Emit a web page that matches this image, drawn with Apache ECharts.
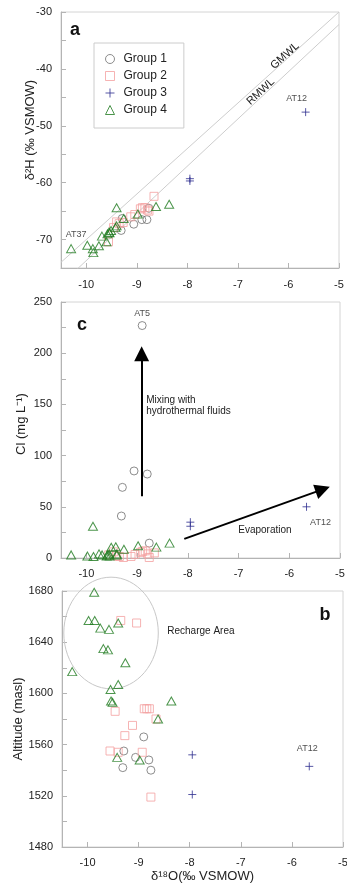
<!DOCTYPE html>
<html>
<head>
<meta charset="utf-8">
<script src="https://cdn.jsdelivr.net/npm/echarts@6/dist/echarts.min.js"></script>
<style>
html, body { margin: 0; padding: 0; background: #fff; }
#isotopes { width: 347px; height: 884px; }
</style>
</head>
<body>
<div id="isotopes"></div>
<script>
// one value per sample, same order in every array of a group
var g1_d18O = [-8.90, -9.06, -8.80, -9.29, -9.31, -8.76];
var g1_d2H  = [-66.5, -67.3, -66.5, -66.3, -68.4, -64.5];
var g1_Cl   = [227, 85, 82, 69, 41, 14.5];
var g1_alt  = [1566, 1550, 1548, 1555, 1542, 1540];

var g2_d18O = [-9.56, -9.46, -9.40, -9.35, -9.27, -9.12, -9.04, -8.93, -8.89, -8.84, -8.79, -8.76, -8.66];
var g2_d2H  = [-70.4, -67.9, -66.9, -67.2, -67.0, -66.0, -65.6, -64.6, -64.4, -64.4, -64.8, -65.0, -62.4];
var g2_Cl   = [3, 6, 2, 1.5, 0.5, 1.5, 3.5, 5.5, 6.5, 7, 4, 0.5, 5];
var g2_alt  = [1555, 1586, 1554, 1657, 1567, 1575, 1655, 1554, 1588, 1588, 1588, 1519, 1580];

var g3_d18O = [-7.95, -7.95, -5.66];
var g3_d2H  = [-59.3, -59.7, -47.6];
var g3_Cl   = [35, 31, 50];
var g3_alt  = [1552, 1521, 1543];

var g4_d18O = [-10.30, -9.98, -9.87, -9.86, -9.75, -9.69, -9.60, -9.58, -9.55, -9.54, -9.51, -9.42, -9.40, -9.40, -9.26, -8.98, -8.62, -8.36];
var g4_d2H  = [-71.6, -71.0, -71.6, -72.3, -71.1, -69.4, -70.4, -69.0, -68.7, -68.8, -68.4, -67.9, -67.6, -64.4, -66.3, -65.5, -64.2, -63.8];
var g4_Cl   = [3, 2, 31, 1.5, 4, 3, 2, 3, 4, 2, 10.5, 11, 4, 3, 8.6, 12, 10.6, 14.5];
var g4_alt  = [1617, 1657, 1679, 1657, 1651, 1635, 1634, 1650, 1603, 1594, 1593, 1550, 1655, 1607, 1624, 1548, 1580, 1594];

var groupNames = ['Group 1', 'Group 2', 'Group 3', 'Group 4'];

var xTicks = [-10, -9, -8, -7, -6, -5];
var d2HTicks = [-70, -60, -50, -40, -30];
var clTicks = [0, 50, 100, 150, 200, 250];
var altTicks = [1480, 1520, 1560, 1600, 1640, 1680];

// meteoric water lines, d2H = slope * d18O + intercept
var gmwl = [8, 10];
var rmwl = [8.3, 9.3];

function draw_isotopes() {
var dom = document.getElementById('isotopes');
var myChart = echarts.init(dom, null, { renderer: 'canvas' });
var option;

var font = 'Liberation Sans, Arial, sans-serif';
var groupX = [g1_d18O, g2_d18O, g3_d18O, g4_d18O];
var panelY = [
  [g1_d2H, g2_d2H, g3_d2H, g4_d2H],
  [g1_Cl, g2_Cl, g3_Cl, g4_Cl],
  [g1_alt, g2_alt, g3_alt, g4_alt]
];
var looks = [
  { symbol: 'circle', size: 8, color: '#707070' },
  { symbol: 'rect', size: 8, color: '#f4a0a0' },
  { symbol: 'path://M0,5L10,5M5,0L5,10', size: 8, color: '#2d2d8f' },
  { symbol: 'triangle', size: [9, 8], color: '#1f7a1f' }
];
// sample names written next to some points: [panel, group, index]
var tags = [
  { at: [0, 2, 2], text: 'AT12', label: { position: 'top', offset: [-9, 0] } },
  { at: [0, 3, 0], text: 'AT37', label: { position: 'top', offset: [5, 0] } },
  { at: [1, 0, 0], text: 'AT5', label: { position: 'top', distance: 3 } },
  { at: [1, 2, 2], text: 'AT12', label: { position: 'bottom', offset: [14, 2] } },
  { at: [2, 2, 2], text: 'AT12', label: { position: 'top', offset: [-2, -4] } }
];

// annotations, in data coordinates
var mixArrow = [[-8.91, 60.4], [-8.91, 199.4]];
var evapArrow = [[-8.07, 18.7], [-5.34, 67.0]];
var rechargeEllipse = [-9.54, 1647.2, 0.925, 43.6];

var grids = [
  { left: 61, top: 12, width: 278, height: 256 },
  { left: 61, top: 302, width: 279, height: 256 },
  { left: 62, top: 591, width: 281, height: 256 }
];
grids.forEach(function (g) {
  g.show = true;
  g.borderColor = '#d4d4d4';
  g.borderWidth = 1;
  g.outerBoundsMode = 'none';
});

var axisGray = '#b4b4b4';
var plain = function (v) { return String(v); };
var xAxes = [0, 1, 2].map(function (i) {
  return {
    type: 'value', gridIndex: i, min: -10.5, max: -5,
    axisLine: { onZero: false, lineStyle: { color: axisGray } },
    axisTick: { inside: true, length: 5, customValues: xTicks, lineStyle: { color: axisGray } },
    axisLabel: { customValues: xTicks, formatter: plain, margin: i === 0 ? 11 : 10, color: '#222', fontSize: 11, fontFamily: font },
    splitLine: { show: false },
    name: i === 2 ? 'δ¹⁸O(‰ VSMOW)' : '',
    nameLocation: 'middle', nameGap: 23, nameMoveOverlap: false,
    nameTextStyle: { color: '#222', fontSize: 13, fontFamily: font }
  };
});

function yAxis(i, min, max, step, labels, name, gap, shift) {
  return {
    type: 'value', gridIndex: i, min: min, max: max, interval: step,
    axisLine: { onZero: false, lineStyle: { color: axisGray } },
    axisTick: { inside: true, length: 5, lineStyle: { color: axisGray } },
    axisLabel: { customValues: labels, formatter: plain, margin: 9, color: '#222', fontSize: 11, fontFamily: font },
    splitLine: { show: false },
    name: name, nameLocation: 'middle', nameGap: gap, nameMoveOverlap: false,
    nameTextStyle: { color: '#222', fontSize: 13, fontFamily: font, padding: [0, 0, 0, shift] }
  };
}
var yAxes = [
  yAxis(0, -75, -30, 5, d2HTicks, 'δ²H (‰ VSMOW)', 24, 20),
  yAxis(1, 0, 250, 25, clTicks, 'Cl (mg L⁻¹)', 33, 12),
  yAxis(2, 1480, 1680, 20, altTicks, 'Altitude (masl)', 37, 0)
];

var series = [];

// water lines in panel a
[gmwl, rmwl].forEach(function (l, k) {
  series.push({
    name: k === 0 ? 'GMWL' : 'RMWL', type: 'line', xAxisIndex: 0, yAxisIndex: 0,
    data: [[-10.5, l[0] * -10.5 + l[1]], [-5, l[0] * -5 + l[1]]],
    symbol: 'none', silent: true, z: 1,
    lineStyle: { color: '#cdcdcd', width: 1 }
  });
});

for (var p = 0; p < 3; p++) {
  for (var g = 0; g < 4; g++) {
    var data = groupX[g].map(function (x, i) {
      var item = { value: [x, panelY[p][g][i]] };
      tags.forEach(function (t) {
        if (t.at[0] === p && t.at[1] === g && t.at[2] === i) {
          item.label = Object.assign({
            show: true, formatter: t.text, color: '#222', fontSize: 9, fontFamily: font
          }, t.label);
        }
      });
      return item;
    });
    series.push({
      name: groupNames[g], type: 'scatter', xAxisIndex: p, yAxisIndex: p,
      symbol: looks[g].symbol, symbolSize: looks[g].size,
      itemStyle: { color: 'rgba(0,0,0,0)', borderColor: looks[g].color, borderWidth: 1 },
      data: data, z: 3
    });
  }
}

var noteLabel = { show: true, color: '#222', fontSize: 10, fontFamily: font };
series.push({
  name: 'notes a', type: 'scatter', xAxisIndex: 0, yAxisIndex: 0, data: [],
  markPoint: {
    symbol: 'circle', symbolSize: 0, silent: true, label: Object.assign({}, noteLabel, { fontSize: 11 }),
    data: [
      { coord: [-6.07, -37.7], label: { formatter: 'GMWL', rotate: 42 } },
      { coord: [-6.55, -44.0], label: { formatter: 'RMWL', rotate: 43 } }
    ]
  }
});
series.push({
  name: 'notes c', type: 'scatter', xAxisIndex: 1, yAxisIndex: 1, data: [],
  markLine: {
    silent: true, symbol: ['none', 'triangle'], symbolSize: 15,
    lineStyle: { color: '#000', width: 2, type: 'solid' },
    itemStyle: { color: '#000' },
    label: { show: false },
    data: [
      [{ coord: mixArrow[0] }, { coord: mixArrow[1] }],
      [{ coord: evapArrow[0] }, { coord: evapArrow[1] }]
    ]
  },
  markPoint: {
    symbol: 'circle', symbolSize: 0, silent: true, label: noteLabel,
    data: [
      { coord: [-8.82, 148.3], label: { formatter: 'Mixing with\nhydrothermal fluids', position: 'right', distance: 0, lineHeight: 11 } },
      { coord: [-6.48, 27.4], label: { formatter: 'Evaporation' } }
    ]
  }
});
series.push({
  name: 'notes b', type: 'custom', xAxisIndex: 2, yAxisIndex: 2, silent: true, clip: false, z: 1,
  data: [rechargeEllipse],
  renderItem: function (params, api) {
    var c = api.coord([api.value(0), api.value(1)]);
    var s = api.size([api.value(2), api.value(3)]);
    return {
      type: 'ellipse',
      shape: { cx: c[0], cy: c[1], rx: s[0], ry: s[1] },
      style: { fill: 'none', stroke: '#c8c8c8', lineWidth: 1 }
    };
  },
  markPoint: {
    symbol: 'circle', symbolSize: 0, silent: true, label: noteLabel,
    data: [
      { coord: [-8.44, 1648.8], label: { formatter: 'Recharge Area', position: 'right', distance: 0 } }
    ]
  }
});

option = {
  animation: false,
  backgroundColor: '#fff',
  grid: grids,
  xAxis: xAxes,
  yAxis: yAxes,
  legend: {
    data: groupNames, orient: 'vertical', left: 94, top: 43,
    itemWidth: 9, itemHeight: 9, itemGap: 5,
    padding: [10, 17, 12, 11],
    backgroundColor: '#fff', borderColor: '#cccccc', borderWidth: 1,
    itemStyle: { borderWidth: 1 },
    textStyle: { color: '#222', fontSize: 12, fontFamily: font, padding: [0, 0, 0, 4] }
  },
  graphic: [
    { type: 'text', x: 75, y: 30.5, style: { text: 'a', align: 'center', verticalAlign: 'middle', font: 'bold 18px ' + font, fill: '#111' } },
    { type: 'text', x: 82, y: 325.5, style: { text: 'c', align: 'center', verticalAlign: 'middle', font: 'bold 18px ' + font, fill: '#111' } },
    { type: 'text', x: 325, y: 615, style: { text: 'b', align: 'center', verticalAlign: 'middle', font: 'bold 18px ' + font, fill: '#111' } }
  ],
  series: series
};

if (option && typeof option === 'object') {
  myChart.setOption(option);
}

window.addEventListener('resize', myChart.resize);
}

draw_isotopes();
</script>
</body>
</html>
